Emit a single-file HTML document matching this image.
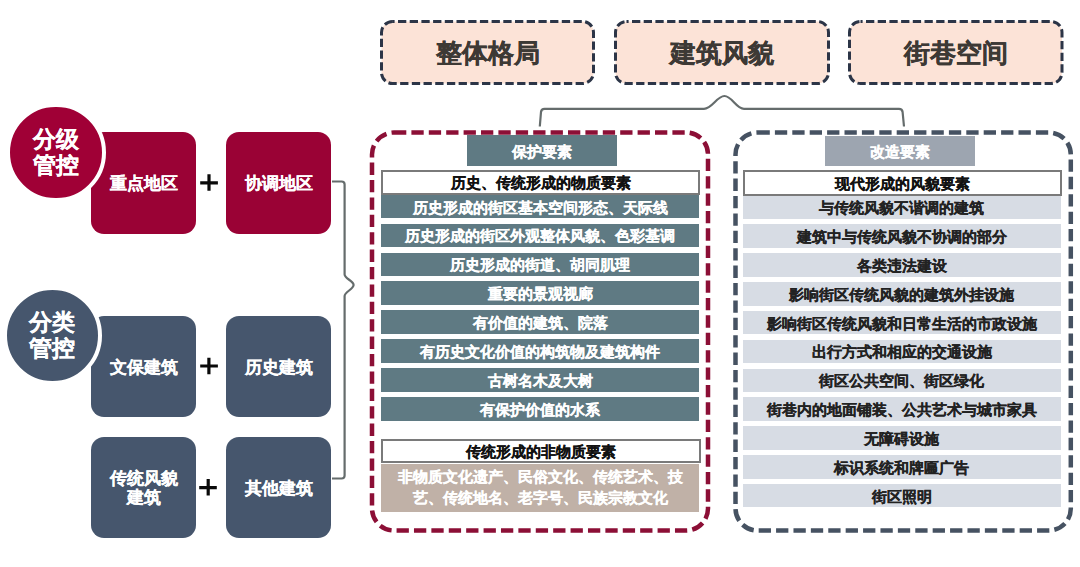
<!DOCTYPE html>
<html><head><meta charset="utf-8">
<style>
html,body{margin:0;padding:0;background:#fff;}
body{width:1080px;height:567px;position:relative;overflow:hidden;font-family:"Liberation Sans",sans-serif;font-weight:bold;}
.a{-webkit-text-stroke:0.2px currentColor;padding-top:3px;position:absolute;box-sizing:border-box;display:flex;align-items:center;justify-content:center;text-align:center;white-space:nowrap;}
.top{font-size:26px;color:#3d3935;padding-top:1.5px;padding-bottom:0;-webkit-text-stroke:0.35px currentColor;}
.circ{border-radius:50%;color:#fff;font-size:22.5px;line-height:26px;white-space:normal;padding-top:1px;}
.sq{border-radius:13px;color:#fff;font-size:17px;line-height:21px;white-space:normal;padding-top:1px;}
.red{background:#9a0235;}
.navy{background:#46566d;}
.plus{font-size:30px;color:#111;}
.hd{font-size:15.2px;color:#fff;}
.wh{background:#fff;border:2px solid #7a7a7a;font-size:15.2px;color:#111;}
.tr{background:#5f7a83;color:#fff;font-size:15.2px;}
.gr{background:#d7dce4;color:#222;font-size:15.2px;}
svg{position:absolute;left:0;top:0;}
</style></head><body>
<svg width="1080" height="567" viewBox="0 0 1080 567">
  <g fill="#fce3d7" stroke="#2c3547" stroke-width="3" stroke-dasharray="8.3 3.4" stroke-dashoffset="-5.5">
    <rect x="381.5" y="21.5" width="212" height="62" rx="11"/>
    <rect x="615.5" y="21.5" width="213" height="62" rx="11"/>
    <rect x="849.5" y="21.5" width="212.5" height="62" rx="11"/>
  </g>
  <rect x="372" y="132.5" width="336" height="398" rx="22" fill="none" stroke="#8c0f36" stroke-width="4.5" stroke-dasharray="12.3 5.1"/>
  <rect x="735.5" y="132.5" width="335.3" height="398" rx="22" fill="none" stroke="#465262" stroke-width="4.5" stroke-dasharray="12.3 5.1"/>
  <g fill="none" stroke="#656c6c" stroke-width="2.2" stroke-linejoin="round">
    <path d="M539.8 126.5 L541 112 Q541.4 108.8 544.5 108.8 H704 C712 108.8 717 96 724.4 96 C732 96 736 108.8 744 108.8 H899 Q902.2 108.8 902.6 112 L904 126.5"/>
    <path d="M332 181.5 H341.6 Q344.6 181.5 344.6 184.5 V274.5 C344.6 278.5 353.6 281 353.6 285 C353.6 289 344.6 292 344.6 296 V475.5 Q344.6 478.5 341.6 478.5 H332"/>
  </g>
  <g stroke="#0a0a0a" stroke-width="3.2">
    <path d="M200.2 182.8 H217.9 M209 174.2 V190.7"/>
    <path d="M200.2 366 H217.9 M208.9 357.7 V374.3"/>
    <path d="M199.2 487.6 H216.8 M208.2 479 V495.6"/>
  </g>
</svg>

<div class="a top" style="left:380px;top:20px;width:215px;height:65px;">整体格局</div>
<div class="a top" style="left:614px;top:20px;width:216px;height:65px;">建筑风貌</div>
<div class="a top" style="left:848px;top:20px;width:215px;height:65px;">街巷空间</div>

<div class="a sq red" style="left:91px;top:132px;width:105px;height:102px;">重点地区</div>
<div class="a sq red" style="left:226px;top:132px;width:105px;height:102px;">协调地区</div>
<div class="a circ red" style="left:6.05px;top:102.75px;width:99.5px;height:99.5px;border:4.5px solid #fff;background:#a00036;">分级<br>管控</div>

<div class="a sq navy" style="left:91px;top:316px;width:105px;height:101px;">文保建筑</div>
<div class="a sq navy" style="left:226px;top:316px;width:105px;height:101px;">历史建筑</div>
<div class="a circ navy" style="left:2.7px;top:285.5px;width:99px;height:99px;border:4.5px solid #fff;">分类<br>管控</div>

<div class="a sq navy" style="left:91px;top:437px;width:105px;height:101px;line-height:19px;padding-top:0;">传统风貌<br>建筑</div>
<div class="a sq navy" style="left:226px;top:437px;width:105px;height:101px;">其他建筑</div>

<div class="a hd" style="left:467px;top:135px;width:150px;height:31px;background:#5f7a83;">保护要素</div>
<div class="a wh" style="left:381.2px;top:170.2px;width:319.3px;height:24.5px;">历史、传统形成的物质要素</div>
<div class="a tr" style="left:381px;top:194.7px;width:318px;height:23.7px;">历史形成的街区基本空间形态、天际线</div>
<div class="a tr" style="left:381px;top:223.6px;width:318px;height:23.7px;">历史形成的街区外观整体风貌、色彩基调</div>
<div class="a tr" style="left:381px;top:252.5px;width:318px;height:23.7px;">历史形成的街道、胡同肌理</div>
<div class="a tr" style="left:381px;top:281.4px;width:318px;height:23.7px;">重要的景观视廊</div>
<div class="a tr" style="left:381px;top:310.2px;width:318px;height:23.7px;">有价值的建筑、院落</div>
<div class="a tr" style="left:381px;top:339.1px;width:318px;height:23.7px;">有历史文化价值的构筑物及建筑构件</div>
<div class="a tr" style="left:381px;top:368.0px;width:318px;height:23.7px;">古树名木及大树</div>
<div class="a tr" style="left:381px;top:396.9px;width:318px;height:23.7px;">有保护价值的水系</div>
<div class="a wh" style="left:381px;top:439.2px;width:319.5px;height:24.3px;">传统形成的非物质要素</div>
<div class="a tr" style="left:381px;top:463.5px;width:318px;height:48px;background:#c0b1a7;white-space:normal;line-height:21px;padding-top:0;padding-bottom:1px;">非物质文化遗产、民俗文化、传统艺术、技<br>艺、传统地名、老字号、民族宗教文化</div>

<div class="a hd" style="left:825px;top:135.5px;width:150px;height:30.5px;background:#9da5b0;">改造要素</div>
<div class="a wh" style="left:742.5px;top:170.3px;width:319.5px;height:25.5px;">现代形成的风貌要素</div>
<div class="a gr" style="left:743px;top:195.6px;width:317.5px;height:23.4px;">与传统风貌不谐调的建筑</div>
<div class="a gr" style="left:743px;top:224.4px;width:317.5px;height:23.7px;">建筑中与传统风貌不协调的部分</div>
<div class="a gr" style="left:743px;top:253.2px;width:317.5px;height:23.7px;">各类违法建设</div>
<div class="a gr" style="left:743px;top:282.0px;width:317.5px;height:23.7px;">影响街区传统风貌的建筑外挂设施</div>
<div class="a gr" style="left:743px;top:310.8px;width:317.5px;height:23.7px;">影响街区传统风貌和日常生活的市政设施</div>
<div class="a gr" style="left:743px;top:339.6px;width:317.5px;height:23.7px;">出行方式和相应的交通设施</div>
<div class="a gr" style="left:743px;top:368.5px;width:317.5px;height:23.7px;">街区公共空间、街区绿化</div>
<div class="a gr" style="left:743px;top:397.3px;width:317.5px;height:23.7px;">街巷内的地面铺装、公共艺术与城市家具</div>
<div class="a gr" style="left:743px;top:426.1px;width:317.5px;height:23.7px;">无障碍设施</div>
<div class="a gr" style="left:743px;top:454.9px;width:317.5px;height:23.7px;">标识系统和牌匾广告</div>
<div class="a gr" style="left:743px;top:483.7px;width:317.5px;height:23.7px;">街区照明</div>
</body></html>
